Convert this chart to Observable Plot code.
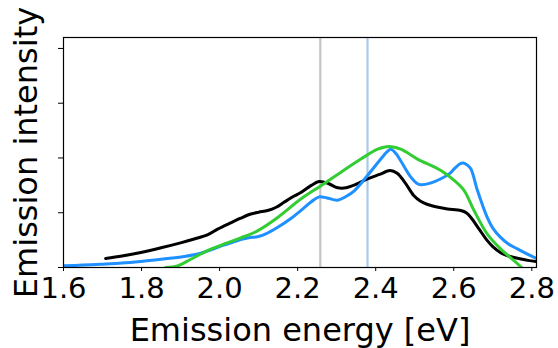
<!DOCTYPE html>
<html>
<head>
<meta charset="utf-8">
<script src="https://cdn.jsdelivr.net/npm/d3@7"></script>
<script src="https://cdn.jsdelivr.net/npm/@observablehq/plot@0.6"></script>
<style>
  html, body { margin: 0; padding: 0; background: #fff; }
  svg { font-family: "DejaVu Sans", sans-serif; }
</style>
</head>
<body>
<div id="chart"></div>
<script>
// Series: [energy eV, intensity]
const blackEnergy = [1.708,1.75,1.798,1.85,1.9,1.935,1.97,1.995,2.03,2.054,2.08,2.1,2.123,2.145,2.165,2.19,2.208,2.235,2.255,2.28,2.3,2.319,2.35,2.379,2.41,2.437,2.455,2.475,2.498,2.515,2.533,2.56,2.584,2.618,2.632,2.644,2.665,2.686,2.70,2.72,2.74,2.763,2.79,2.812];
const blackIntensity = [0.165,0.21,0.274,0.36,0.45,0.52,0.60,0.70,0.82,0.90,0.976,1.01,1.04,1.10,1.19,1.30,1.37,1.50,1.57,1.53,1.46,1.45,1.52,1.62,1.70,1.77,1.72,1.55,1.31,1.21,1.15,1.10,1.07,1.04,1.0,0.914,0.70,0.49,0.38,0.27,0.21,0.17,0.13,0.11];

const blueEnergy = [1.6,1.65,1.696,1.75,1.798,1.85,1.909,1.952,1.995,2.025,2.054,2.075,2.097,2.12,2.148,2.18,2.208,2.235,2.255,2.275,2.302,2.325,2.345,2.379,2.413,2.43,2.439,2.452,2.464,2.49,2.505,2.516,2.54,2.567,2.59,2.601,2.615,2.624,2.635,2.644,2.661,2.686,2.70,2.72,2.74,2.763,2.79,2.812];
const blueIntensity = [0.03,0.045,0.06,0.08,0.11,0.15,0.2,0.26,0.37,0.44,0.51,0.545,0.56,0.62,0.73,0.88,1.04,1.20,1.29,1.27,1.23,1.30,1.40,1.68,1.98,2.12,2.16,2.08,1.95,1.65,1.54,1.51,1.54,1.62,1.72,1.80,1.89,1.91,1.87,1.80,1.40,0.91,0.72,0.55,0.43,0.34,0.24,0.165];

const greenEnergy = [1.862,1.892,1.926,1.969,2.012,2.054,2.097,2.148,2.208,2.259,2.311,2.362,2.405,2.434,2.464,2.507,2.567,2.601,2.627,2.652,2.686,2.72,2.755,2.774];
const greenIntensity = [0.0,0.03,0.15,0.31,0.43,0.54,0.67,0.91,1.25,1.49,1.74,1.98,2.16,2.21,2.16,1.98,1.77,1.59,1.40,1.04,0.61,0.34,0.12,0.0];

const refLines = [2.258, 2.379];
const refColors = ["#c4c4c4", "#a9c9ea"];

const xTicks = [1.6, 1.8, 2.0, 2.2, 2.4, 2.6, 2.8];
const yTicks = [0, 1, 2, 3, 4];

const xLabel = "Emission energy [eV]";
const yLabel = "Emission intensity";

const toRows = (xs, ys) => xs.map((x, i) => ({x, y: ys[i]}));
const black = toRows(blackEnergy, blackIntensity);
const blue = toRows(blueEnergy, blueIntensity);
const green = toRows(greenEnergy, greenIntensity);
const refs = refLines.map((x, i) => ({x, c: refColors[i]}));

const chart = Plot.plot({
  width: 558,
  height: 348,
  marginLeft: 63,
  marginTop: 37,
  marginRight: 22,
  marginBottom: 81,
  style: {fontFamily: "DejaVu Sans, sans-serif", color: "#000", background: "#fff", overflow: "visible"},
  x: {domain: [1.6, 2.812]},
  y: {domain: [0, 4.2]},
  marks: [
    Plot.ruleX(refs, {x: "x", stroke: "c", strokeWidth: 2.2}),
    Plot.line(black, {x: "x", y: "y", stroke: "#000000", strokeWidth: 3, curve: "catmull-rom", clip: true}),
    Plot.line(blue, {x: "x", y: "y", stroke: "#1e90ff", strokeWidth: 3, curve: "catmull-rom", clip: true}),
    Plot.line(green, {x: "x", y: "y", stroke: "#32cd32", strokeWidth: 3, curve: "catmull-rom", clip: true}),
    Plot.frame({stroke: "#000", strokeWidth: 1.2}),
    Plot.axisX({ticks: xTicks, tickSize: 4, tickPadding: 6, fontSize: 29, tickFormat: d3.format(".1f"), label: null}),
    Plot.axisX({ticks: [], label: xLabel, labelAnchor: "center", labelArrow: false, labelOffset: 73, fontSize: 32}),
    Plot.axisY({ticks: yTicks, tickSize: 5, tickFormat: () => "", label: null}),
    Plot.axisY({ticks: [], label: yLabel, labelAnchor: "center", labelArrow: false, labelOffset: 49, fontSize: 32})
  ]
});
document.getElementById("chart").appendChild(chart);
</script>
</body>
</html>
